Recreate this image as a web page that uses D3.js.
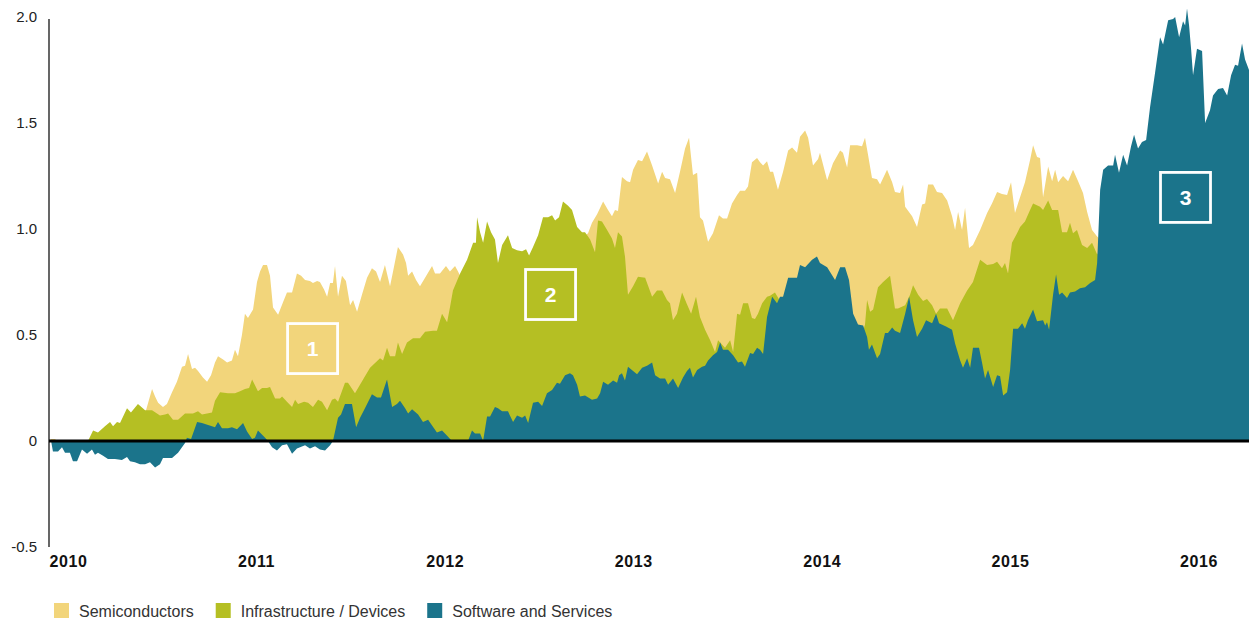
<!DOCTYPE html>
<html>
<head>
<meta charset="utf-8">
<script src="https://cdn.jsdelivr.net/npm/d3@7"></script>
<style>
  body { margin: 0; background: #fff; }
  svg { display: block; font-family: "Liberation Sans", Arial, Helvetica, sans-serif; }
  .y-label { font-size: 15px; fill: #222; }
  .x-label { font-size: 16px; font-weight: bold; fill: #111; letter-spacing: 0.6px; }
  .legend-label { font-size: 16px; fill: #333; }
  .box-label { font-size: 21px; font-weight: bold; fill: #fff; }
</style>
</head>
<body>
<svg width="1249" height="619"></svg>
<script>
// series: [decimal year, value]
var semiconductors = [
  [2010.000,0],[2010.011,0.01],[2010.032,0.01],[2010.042,0],[2010.207,0],[2010.324,0.06],[2010.430,0.11],[2010.510,0.13],
  [2010.547,0.245],[2010.563,0.21],[2010.579,0.18],[2010.605,0.16],[2010.626,0.175],[2010.653,0.23],[2010.679,0.28],[2010.706,0.35],
  [2010.722,0.355],[2010.738,0.41],[2010.759,0.34],[2010.775,0.345],[2010.791,0.33],[2010.817,0.30],[2010.839,0.28],[2010.860,0.31],
  [2010.881,0.37],[2010.897,0.40],[2010.924,0.385],[2010.945,0.37],[2010.971,0.38],[2010.987,0.43],[2011.003,0.40],[2011.024,0.50],
  [2011.040,0.60],[2011.056,0.58],[2011.083,0.62],[2011.104,0.75],[2011.120,0.80],[2011.136,0.83],[2011.157,0.83],[2011.173,0.78],
  [2011.189,0.63],[2011.216,0.595],[2011.242,0.655],[2011.263,0.70],[2011.290,0.70],[2011.316,0.79],[2011.338,0.78],[2011.359,0.76],
  [2011.385,0.755],[2011.401,0.745],[2011.423,0.755],[2011.438,0.75],[2011.460,0.715],[2011.476,0.68],[2011.492,0.745],[2011.507,0.745],
  [2011.518,0.825],[2011.534,0.68],[2011.555,0.78],[2011.576,0.755],[2011.598,0.64],[2011.614,0.665],[2011.635,0.61],[2011.661,0.69],
  [2011.688,0.77],[2011.714,0.815],[2011.736,0.80],[2011.757,0.75],[2011.783,0.83],[2011.810,0.73],[2011.826,0.80],[2011.852,0.915],
  [2011.879,0.88],[2011.895,0.84],[2011.906,0.78],[2011.927,0.80],[2011.948,0.76],[2011.969,0.73],[2011.996,0.77],[2012.033,0.825],
  [2012.049,0.79],[2012.075,0.79],[2012.107,0.825],[2012.128,0.80],[2012.155,0.825],[2012.171,0.80],[2012.182,0.78],[2012.288,0.80],
  [2012.394,0.78],[2012.500,0.82],[2012.606,0.85],[2012.712,0.90],[2012.818,0.95],[2012.861,0.98],[2012.882,1.03],[2012.909,1.07],
  [2012.941,1.13],[2012.967,1.09],[2012.988,1.06],[2013.004,1.09],[2013.020,1.085],[2013.041,1.245],[2013.068,1.225],[2013.084,1.22],
  [2013.100,1.28],[2013.126,1.325],[2013.148,1.32],[2013.174,1.365],[2013.201,1.30],[2013.233,1.215],[2013.254,1.27],[2013.270,1.24],
  [2013.296,1.235],[2013.323,1.17],[2013.349,1.27],[2013.376,1.38],[2013.397,1.43],[2013.418,1.255],[2013.440,1.265],[2013.455,1.055],
  [2013.471,1.04],[2013.498,0.94],[2013.524,0.98],[2013.556,1.065],[2013.577,1.05],[2013.599,1.05],[2013.625,1.12],[2013.652,1.16],
  [2013.668,1.18],[2013.694,1.18],[2013.710,1.20],[2013.731,1.315],[2013.758,1.335],[2013.774,1.315],[2013.790,1.30],[2013.811,1.32],
  [2013.827,1.27],[2013.843,1.27],[2013.869,1.185],[2013.896,1.27],[2013.923,1.37],[2013.944,1.385],[2013.970,1.36],[2013.986,1.435],
  [2014.013,1.465],[2014.029,1.43],[2014.055,1.30],[2014.082,1.33],[2014.092,1.36],[2014.130,1.23],[2014.161,1.31],[2014.199,1.37],
  [2014.214,1.36],[2014.236,1.29],[2014.252,1.395],[2014.289,1.395],[2014.315,1.39],[2014.331,1.43],[2014.347,1.35],[2014.368,1.24],
  [2014.395,1.235],[2014.411,1.21],[2014.448,1.28],[2014.475,1.22],[2014.490,1.175],[2014.517,1.17],[2014.533,1.21],[2014.544,1.105],
  [2014.581,1.06],[2014.607,1.01],[2014.634,1.115],[2014.650,1.12],[2014.666,1.21],[2014.692,1.21],[2014.713,1.175],[2014.740,1.17],
  [2014.767,1.135],[2014.793,1.06],[2014.809,0.995],[2014.825,1.08],[2014.846,0.995],[2014.862,1.10],[2014.883,0.91],[2014.904,0.925],
  [2014.942,0.995],[2014.979,1.075],[2015.005,1.12],[2015.032,1.175],[2015.058,1.165],[2015.085,1.16],[2015.106,1.22],[2015.127,1.075],
  [2015.143,1.12],[2015.180,1.22],[2015.207,1.325],[2015.223,1.395],[2015.244,1.34],[2015.260,1.335],[2015.276,1.15],[2015.303,1.295],
  [2015.324,1.225],[2015.340,1.28],[2015.356,1.22],[2015.382,1.25],[2015.409,1.225],[2015.435,1.28],[2015.462,1.225],[2015.488,1.17],
  [2015.510,1.08],[2015.536,0.995],[2015.563,0.965],[2015.579,0.95],[2016.369,0.95]
];

var infrastructure = [
  [2010.000,0],[2010.207,0],[2010.234,0.05],[2010.260,0.04],[2010.297,0.07],[2010.324,0.09],[2010.340,0.07],[2010.361,0.09],
  [2010.377,0.085],[2010.414,0.155],[2010.435,0.135],[2010.472,0.175],[2010.510,0.145],[2010.547,0.145],[2010.589,0.12],[2010.616,0.125],
  [2010.632,0.13],[2010.658,0.10],[2010.685,0.10],[2010.722,0.13],[2010.764,0.13],[2010.791,0.14],[2010.812,0.125],[2010.839,0.13],
  [2010.865,0.135],[2010.881,0.19],[2010.908,0.23],[2010.950,0.225],[2010.987,0.225],[2011.014,0.235],[2011.040,0.245],[2011.062,0.25],
  [2011.078,0.29],[2011.109,0.235],[2011.131,0.25],[2011.157,0.25],[2011.173,0.255],[2011.200,0.20],[2011.226,0.20],[2011.237,0.21],
  [2011.263,0.185],[2011.290,0.16],[2011.306,0.195],[2011.322,0.175],[2011.354,0.185],[2011.375,0.18],[2011.401,0.16],[2011.428,0.195],
  [2011.449,0.185],[2011.476,0.145],[2011.502,0.195],[2011.518,0.20],[2011.534,0.185],[2011.571,0.275],[2011.587,0.275],[2011.624,0.225],
  [2011.667,0.29],[2011.704,0.345],[2011.757,0.39],[2011.773,0.38],[2011.794,0.44],[2011.810,0.40],[2011.837,0.40],[2011.852,0.465],
  [2011.874,0.41],[2011.900,0.465],[2011.932,0.485],[2011.969,0.485],[2011.996,0.515],[2012.038,0.52],[2012.059,0.52],[2012.086,0.60],
  [2012.113,0.56],[2012.128,0.63],[2012.144,0.71],[2012.182,0.79],[2012.219,0.855],[2012.251,0.935],[2012.266,0.935],[2012.272,1.055],
  [2012.288,0.985],[2012.304,0.935],[2012.325,1.035],[2012.346,0.985],[2012.367,0.95],[2012.383,0.84],[2012.405,0.925],[2012.436,0.97],
  [2012.458,0.91],[2012.484,0.90],[2012.511,0.895],[2012.532,0.905],[2012.548,0.875],[2012.569,0.915],[2012.596,0.97],[2012.622,1.055],
  [2012.649,1.055],[2012.670,1.065],[2012.686,1.04],[2012.707,1.055],[2012.728,1.13],[2012.755,1.11],[2012.776,1.09],[2012.803,1.01],
  [2012.829,0.985],[2012.845,0.985],[2012.872,0.95],[2012.898,0.89],[2012.914,1.04],[2012.935,1.035],[2012.962,0.995],[2012.988,0.955],
  [2013.004,0.91],[2013.020,0.985],[2013.041,0.965],[2013.057,0.87],[2013.073,0.69],[2013.100,0.73],[2013.126,0.775],[2013.164,0.77],
  [2013.201,0.68],[2013.227,0.71],[2013.254,0.71],[2013.280,0.665],[2013.296,0.65],[2013.312,0.57],[2013.333,0.60],[2013.360,0.70],
  [2013.386,0.645],[2013.408,0.60],[2013.434,0.68],[2013.455,0.585],[2013.482,0.525],[2013.509,0.475],[2013.535,0.42],[2013.551,0.475],
  [2013.588,0.44],[2013.615,0.475],[2013.631,0.42],[2013.652,0.60],[2013.668,0.595],[2013.684,0.65],[2013.710,0.65],[2013.731,0.58],
  [2013.747,0.575],[2013.763,0.60],[2013.785,0.65],[2013.811,0.68],[2013.827,0.685],[2013.853,0.70],[2013.880,0.66],[2013.986,0.78],
  [2014.092,0.78],[2014.199,0.72],[2014.268,0.58],[2014.315,0.50],[2014.331,0.55],[2014.342,0.665],[2014.358,0.61],[2014.374,0.62],
  [2014.400,0.725],[2014.427,0.75],[2014.464,0.78],[2014.490,0.625],[2014.506,0.625],[2014.544,0.64],[2014.570,0.69],[2014.586,0.735],
  [2014.613,0.69],[2014.639,0.66],[2014.660,0.67],[2014.687,0.64],[2014.708,0.60],[2014.729,0.625],[2014.767,0.625],[2014.798,0.57],
  [2014.836,0.65],[2014.873,0.71],[2014.904,0.75],[2014.942,0.855],[2014.979,0.83],[2015.011,0.835],[2015.032,0.845],[2015.058,0.815],
  [2015.074,0.84],[2015.090,0.79],[2015.111,0.935],[2015.138,0.98],[2015.154,1.01],[2015.180,1.035],[2015.207,1.09],[2015.223,1.12],
  [2015.260,1.105],[2015.276,1.09],[2015.303,1.135],[2015.324,1.09],[2015.356,1.09],[2015.377,0.985],[2015.403,0.985],[2015.419,1.03],
  [2015.435,0.98],[2015.456,0.995],[2015.483,0.925],[2015.510,0.91],[2015.536,0.935],[2015.563,0.88],[2015.579,0.90],[2015.844,0.95],
  [2016.109,1.0],[2016.369,1.0]
];

var software = [
  [2010.000,0],[2010.011,0],[2010.021,-0.05],[2010.048,-0.05],[2010.069,-0.03],[2010.085,-0.055],[2010.111,-0.055],[2010.127,-0.095],
  [2010.149,-0.095],[2010.175,-0.04],[2010.202,-0.06],[2010.228,-0.04],[2010.244,-0.065],[2010.260,-0.055],[2010.287,-0.07],[2010.313,-0.085],
  [2010.350,-0.085],[2010.387,-0.09],[2010.414,-0.075],[2010.430,-0.095],[2010.456,-0.10],[2010.483,-0.11],[2010.510,-0.11],[2010.536,-0.10],
  [2010.563,-0.125],[2010.589,-0.11],[2010.605,-0.08],[2010.653,-0.08],[2010.685,-0.055],[2010.722,-0.01],[2010.732,0.015],[2010.754,0.01],
  [2010.786,0.09],[2010.812,0.085],[2010.828,0.08],[2010.865,0.07],[2010.881,0.065],[2010.897,0.09],[2010.918,0.06],[2010.950,0.06],
  [2010.971,0.065],[2010.998,0.055],[2011.030,0.085],[2011.051,0.045],[2011.078,0.01],[2011.093,0.015],[2011.109,0.05],[2011.147,0.015],
  [2011.162,0],[2011.184,-0.03],[2011.210,-0.045],[2011.237,-0.02],[2011.263,-0.015],[2011.290,-0.06],[2011.316,-0.035],[2011.359,-0.02],
  [2011.385,-0.035],[2011.412,-0.025],[2011.438,-0.04],[2011.465,-0.045],[2011.492,-0.02],[2011.507,0],[2011.534,0.11],[2011.550,0.125],
  [2011.571,0.175],[2011.608,0.175],[2011.630,0.065],[2011.651,0.11],[2011.677,0.155],[2011.714,0.22],[2011.741,0.205],[2011.762,0.205],
  [2011.794,0.29],[2011.821,0.16],[2011.847,0.175],[2011.863,0.19],[2011.890,0.155],[2011.906,0.13],[2011.927,0.15],[2011.959,0.125],
  [2011.985,0.09],[2012.012,0.10],[2012.059,0.04],[2012.086,0.05],[2012.113,0.025],[2012.139,0],[2012.224,0],[2012.245,0.05],
  [2012.261,0.035],[2012.288,0.035],[2012.304,0],[2012.325,0.115],[2012.341,0.115],[2012.367,0.16],[2012.383,0.155],[2012.405,0.14],
  [2012.436,0.14],[2012.463,0.09],[2012.484,0.12],[2012.511,0.11],[2012.527,0.12],[2012.543,0.085],[2012.569,0.18],[2012.596,0.185],
  [2012.617,0.165],[2012.643,0.225],[2012.670,0.24],[2012.696,0.275],[2012.712,0.27],[2012.739,0.31],[2012.765,0.32],[2012.781,0.31],
  [2012.803,0.265],[2012.818,0.21],[2012.845,0.215],[2012.882,0.195],[2012.909,0.20],[2012.925,0.225],[2012.941,0.28],[2012.967,0.265],
  [2012.994,0.285],[2013.015,0.275],[2013.026,0.31],[2013.041,0.32],[2013.057,0.285],[2013.073,0.35],[2013.100,0.33],[2013.121,0.315],
  [2013.148,0.345],[2013.174,0.355],[2013.201,0.37],[2013.217,0.31],[2013.243,0.295],[2013.270,0.295],[2013.286,0.265],[2013.312,0.295],
  [2013.339,0.25],[2013.365,0.30],[2013.386,0.33],[2013.402,0.345],[2013.418,0.30],[2013.440,0.335],[2013.466,0.35],[2013.482,0.355],
  [2013.498,0.38],[2013.524,0.405],[2013.546,0.42],[2013.562,0.465],[2013.577,0.43],[2013.604,0.43],[2013.631,0.405],[2013.657,0.37],
  [2013.678,0.375],[2013.694,0.35],[2013.721,0.415],[2013.737,0.41],[2013.758,0.44],[2013.774,0.43],[2013.790,0.41],[2013.811,0.585],
  [2013.838,0.68],[2013.864,0.65],[2013.880,0.68],[2013.896,0.68],[2013.923,0.77],[2013.970,0.77],[2013.986,0.83],[2014.013,0.82],
  [2014.050,0.855],[2014.076,0.87],[2014.092,0.84],[2014.130,0.82],[2014.172,0.76],[2014.199,0.82],[2014.225,0.82],[2014.246,0.76],
  [2014.268,0.60],[2014.294,0.55],[2014.321,0.545],[2014.342,0.49],[2014.352,0.43],[2014.368,0.455],[2014.395,0.39],[2014.411,0.41],
  [2014.437,0.51],[2014.453,0.51],[2014.475,0.535],[2014.490,0.52],[2014.517,0.51],[2014.544,0.60],[2014.565,0.68],[2014.586,0.57],
  [2014.607,0.49],[2014.634,0.53],[2014.655,0.57],[2014.687,0.555],[2014.708,0.60],[2014.724,0.555],[2014.761,0.54],[2014.793,0.525],
  [2014.809,0.46],[2014.836,0.38],[2014.851,0.345],[2014.873,0.39],[2014.889,0.345],[2014.904,0.44],[2014.936,0.44],[2014.952,0.37],
  [2014.968,0.295],[2014.984,0.335],[2015.011,0.255],[2015.032,0.31],[2015.048,0.305],[2015.064,0.215],[2015.085,0.23],[2015.101,0.335],
  [2015.117,0.53],[2015.143,0.53],[2015.165,0.555],[2015.180,0.53],[2015.196,0.57],[2015.223,0.62],[2015.244,0.565],[2015.276,0.57],
  [2015.287,0.545],[2015.297,0.56],[2015.308,0.525],[2015.329,0.69],[2015.345,0.785],[2015.361,0.69],[2015.377,0.70],[2015.403,0.675],
  [2015.419,0.70],[2015.446,0.705],[2015.472,0.72],[2015.499,0.725],[2015.526,0.745],[2015.552,0.76],[2015.563,0.84],[2015.579,1.185],
  [2015.595,1.28],[2015.621,1.30],[2015.648,1.30],[2015.658,1.35],[2015.679,1.265],[2015.701,1.35],[2015.722,1.30],[2015.743,1.39],
  [2015.759,1.445],[2015.780,1.38],[2015.801,1.41],[2015.823,1.42],[2015.844,1.575],[2015.871,1.74],[2015.897,1.905],[2015.913,1.87],
  [2015.940,1.985],[2015.966,1.99],[2015.977,2.0],[2015.998,1.905],[2016.019,1.98],[2016.030,1.96],[2016.040,2.04],[2016.051,1.96],
  [2016.062,1.845],[2016.072,1.725],[2016.093,1.85],[2016.120,1.84],[2016.136,1.50],[2016.162,1.56],[2016.178,1.63],[2016.205,1.66],
  [2016.231,1.665],[2016.253,1.63],[2016.274,1.725],[2016.295,1.775],[2016.311,1.77],[2016.332,1.875],[2016.348,1.80],[2016.369,1.75]
];

var seriesNames = ['Semiconductors', 'Infrastructure / Devices', 'Software and Services'];
var seriesColors = ['#f2d57b', '#b5bf23', '#1b748b'];
var yTicks = [-0.5, 0, 0.5, 1.0, 1.5, 2.0];
var yTickLabels = ['-0.5', '0', '0.5', '1.0', '1.5', '2.0'];
var years = [2010, 2011, 2012, 2013, 2014, 2015, 2016];
// numbered callouts: [year, value, label]
var callouts = [[2011.399, 0.436, '1'], [2012.662, 0.691, '2'], [2016.032, 1.149, '3']];

var svg = d3.select('svg');
var plot = {l: 49, r: 1249, t: 17, b: 547};

var xScale = d3.scaleLinear()
    .domain([2010, 2016.369])
    .range([plot.l, plot.r]);

var yScale = d3.scaleLinear()
    .domain([-0.5, 2.0])
    .range([plot.b, plot.t]);

var area = d3.area()
    .x(function(d) { return xScale(d[0]); })
    .y0(yScale(0))
    .y1(function(d) { return yScale(d[1]); });

// areas are overlaid (not stacked), back to front
svg.selectAll('.area')
    .data([semiconductors, infrastructure, software])
    .enter()
    .append('path')
    .attr('class', 'area')
    .attr('d', area)
    .attr('fill', function(d, i) { return seriesColors[i]; });

// callout boxes
var box = 50;
var co = svg.selectAll('.callout')
    .data(callouts)
    .enter()
    .append('g')
    .attr('class', 'callout')
    .attr('transform', function(d) {
        return 'translate(' + [xScale(d[0]), yScale(d[1])] + ')';
    });
co.append('rect')
    .attr('x', -box / 2)
    .attr('y', -box / 2)
    .attr('width', box)
    .attr('height', box)
    .attr('fill', 'none')
    .attr('stroke', '#fff')
    .attr('stroke-width', 2.8);
co.append('text')
    .attr('class', 'box-label')
    .attr('text-anchor', 'middle')
    .attr('dy', '0.36em')
    .text(function(d) { return d[2]; });

// zero line
svg.append('line')
    .attr('x1', plot.l)
    .attr('x2', plot.r)
    .attr('y1', yScale(0))
    .attr('y2', yScale(0))
    .attr('stroke', '#000')
    .attr('stroke-width', 3);

// y axis
var yAxis = d3.axisLeft(yScale)
    .tickValues(yTicks)
    .tickSize(0)
    .tickPadding(12)
    .tickFormat(function(d, i) { return yTickLabels[i]; });

var yg = svg.append('g')
    .attr('transform', 'translate(' + plot.l + ',0)')
    .call(yAxis);
yg.select('.domain')
    .attr('d', 'M0,' + (plot.t + 2) + 'V' + plot.b)
    .attr('stroke', '#000')
    .attr('stroke-width', 1.2);
yg.selectAll('text')
    .attr('class', 'y-label')
    .attr('font-family', null)
    .attr('font-size', null)
    .attr('fill', null);

// x labels, left-aligned at the start of each year
var xAxis = d3.axisBottom(xScale)
    .tickValues(years)
    .tickSize(0)
    .tickPadding(0)
    .tickFormat(d3.format('d'));

var xg = svg.append('g')
    .attr('transform', 'translate(0,' + plot.b + ')')
    .call(xAxis);
xg.select('.domain').remove();
xg.selectAll('text')
    .attr('class', 'x-label')
    .attr('text-anchor', 'start')
    .attr('font-family', null)
    .attr('font-size', null)
    .attr('fill', null)
    .attr('y', 20)
    .attr('dy', null);

// legend
var legend = svg.append('g').attr('transform', 'translate(54,603)');
var lx = 0;
seriesNames.forEach(function(name, i) {
    var item = legend.append('g').attr('transform', 'translate(' + lx + ',0)');
    item.append('rect')
        .attr('width', 15)
        .attr('height', 15)
        .attr('fill', seriesColors[i]);
    var t = item.append('text')
        .attr('class', 'legend-label')
        .attr('x', 25)
        .attr('y', 14)
        .text(name);
    lx += 25 + t.node().getComputedTextLength() + 22;
});
</script>
</body>
</html>
